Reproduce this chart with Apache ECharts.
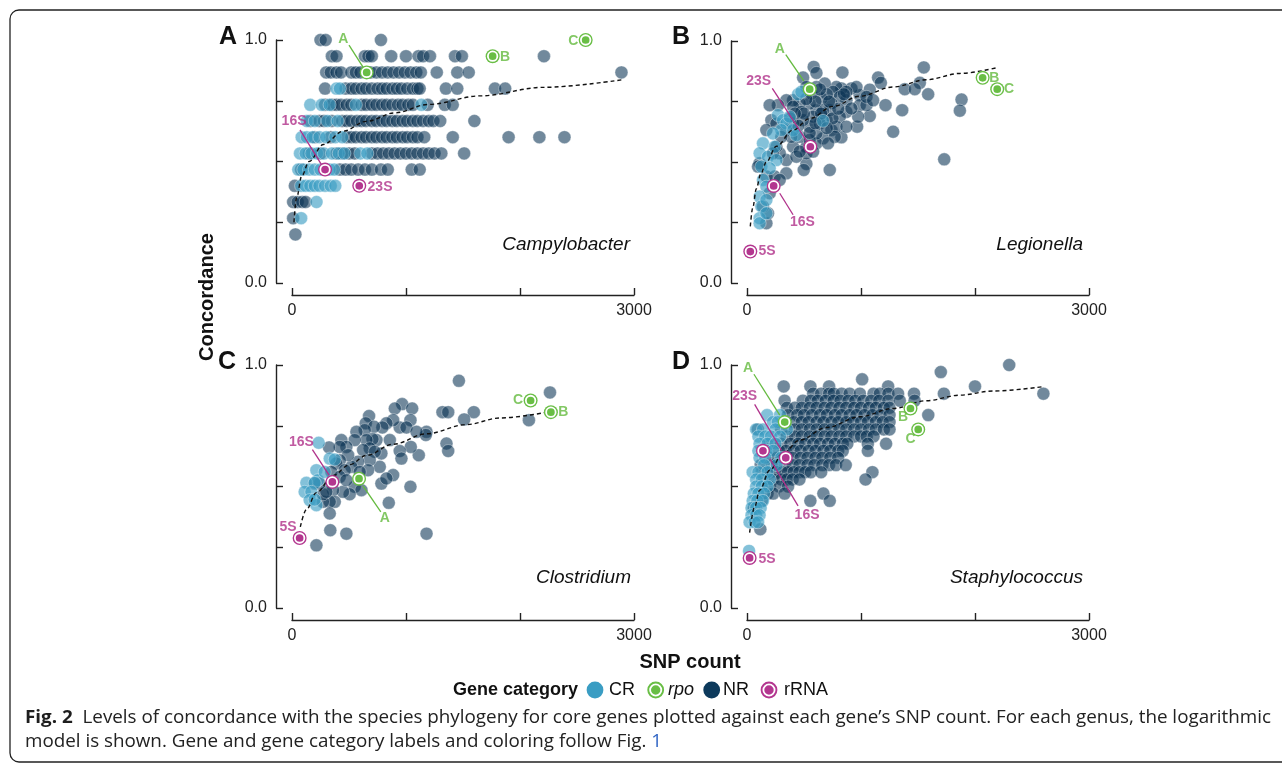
<!DOCTYPE html>
<html><head><meta charset="utf-8">
<script src="https://cdn.jsdelivr.net/npm/echarts@6/dist/echarts.min.js"></script>
<style>html,body{margin:0;padding:0;background:#fff}#c{width:1282px;height:766px}</style>
</head><body><div id="c"></div>
<script>
// ---------- ticks & categories ----------
const SNP_TICKS = [0, 1000, 2000, 3000];
const SNP_TICK_LABELS = ['0', '', '', '3000'];
const CONC_TICKS = [0, 0.25, 0.5, 0.75, 1];
const CONC_TICK_LABELS = ['0.0', '', '', '', '1.0'];
const categories = ['CR', 'rpo', 'NR', 'rRNA'];
const genera = ['Campylobacter', 'Legionella', 'Clostridium', 'Staphylococcus'];
const panelLetters = ['A', 'B', 'C', 'D'];

// ---------- A: Campylobacter (rows: [concordance, SNP counts]) ----------
const campyNR = [
  [1.0, [250, 295, 780]],
  [0.9333, [350, 390, 640, 670, 700, 870, 1000, 1110, 1150, 1210, 1430, 1490, 2210]],
  [0.8667, [300, 340, 390, 430, 520, 560, 600, 690, 740, 790, 840, 890, 940, 990, 1040, 1090, 1130, 1270, 1450, 1550, 2890]],
  [0.8, [290, 470, 520, 560, 610, 650, 700, 750, 790, 830, 880, 920, 960, 1010, 1060, 1100, 1120, 1350, 1450, 1780, 1870]],
  [0.7333, [290, 350, 390, 430, 480, 520, 610, 650, 700, 740, 790, 830, 880, 930, 970, 1020, 1060, 1190, 1340, 1410]],
  [0.6667, [160, 240, 280, 350, 440, 480, 520, 570, 610, 650, 700, 740, 790, 830, 880, 920, 970, 1010, 1060, 1100, 1150, 1200, 1240, 1300, 1600]],
  [0.6, [200, 340, 480, 520, 560, 610, 650, 700, 740, 790, 830, 880, 920, 970, 1010, 1060, 1100, 1160, 1410, 1900, 2170, 2390]],
  [0.5333, [150, 250, 390, 440, 500, 550, 700, 750, 800, 850, 900, 950, 1000, 1050, 1100, 1150, 1200, 1250, 1310, 1510]],
  [0.4667, [80, 420, 470, 520, 580, 640, 700, 780, 840, 1050, 1120]],
  [0.4, [25]],
  [0.3333, [10, 50, 90, 120]],
  [0.2667, [10]],
  [0.2, [30]]
];
const campyCR = [
  [0.8, [390, 420]],
  [0.7333, [160, 260, 330, 560, 1135]],
  [0.6667, [130, 200, 310, 400]],
  [0.6, [85, 130, 180, 240, 300, 380, 440]],
  [0.5333, [70, 120, 170, 220, 280, 350, 410, 460, 600, 660]],
  [0.4667, [55, 100, 150, 200, 250, 330, 370]],
  [0.4, [80, 120, 160, 200, 240, 290, 340, 380]],
  [0.3333, [215]],
  [0.2667, [80]]
];
const campyRpo = [['A', 655, 0.8667], ['B', 1760, 0.9333], ['C', 2576, 1.0]];
const campyRRNA = [['16S', 290, 0.4667], ['23S', 590, 0.4]];
const campyFit = [[17, 0.25], [40, 0.35], [85, 0.44], [150, 0.50], [275, 0.57], [450, 0.625], [650, 0.665], [900, 0.70], [1200, 0.735], [1650, 0.77], [2200, 0.805], [2890, 0.836]];

// ---------- B: Legionella ----------
const legNR = [[585,0.893],[609,0.868],[837,0.870],[1551,0.891],[492,0.849],[1150,0.849],[1174,0.827],[1516,0.827],[1384,0.801],[1472,0.801],[1589,0.780],[1882,0.758],[1867,0.712],[1361,0.714],[1215,0.735],[1077,0.690],[1282,0.625],[966,0.646],[828,0.602],[726,0.467],[521,0.492],[498,0.467],[1730,0.511],[1077,0.799],[989,0.776],[916,0.804],[828,0.804],[784,0.810],[682,0.824],[755,0.790],[872,0.755],[989,0.735],[1048,0.735],[975,0.687],[872,0.707],[814,0.687],[741,0.632],[667,0.598],[609,0.577],[521,0.563],[521,0.536],[609,0.618],[697,0.673],[726,0.714],[609,0.714],[550,0.742],[462,0.742],[404,0.755],[345,0.755],[272,0.735],[199,0.735],[214,0.673],[170,0.632],[111,0.495],[97,0.481],[170,0.440],[243,0.440],[345,0.453],[345,0.508],[287,0.426],[199,0.371],[170,0.247],[184,0.288],[140,0.316],[404,0.563],[462,0.604],[550,0.646],[638,0.659],[580,0.687],[492,0.673],[404,0.659],[345,0.632],[389,0.604],[433,0.522],[287,0.536],[258,0.563],[814,0.769],[916,0.721],[741,0.742],[653,0.762],[565,0.783],[609,0.810],[521,0.810],[404,0.728],[667,0.714],[784,0.646],[872,0.646],[770,0.604],[711,0.577],[550,0.591],[462,0.543],[580,0.543],[960,0.810],[872,0.790],[1048,0.769],[1106,0.755],[477,0.707],[258,0.659],[301,0.604],[228,0.536],[600,0.75],[700,0.78],[650,0.70],[750,0.68],[500,0.70],[450,0.65],[550,0.62],[700,0.64],[800,0.72],[850,0.78],[420,0.70],[380,0.68],[640,0.80],[720,0.75],[520,0.76],[600,0.66]];
const legCR = [[448,0.780],[477,0.790],[272,0.694],[316,0.673],[345,0.659],[301,0.632],[228,0.618],[140,0.577],[111,0.536],[184,0.522],[258,0.508],[126,0.481],[199,0.474],[140,0.426],[170,0.398],[111,0.357],[126,0.316],[111,0.268],[111,0.247],[667,0.670],[404,0.632],[433,0.611],[375,0.687],[243,0.563],[170,0.343],[170,0.288]];
const legRpo = [['A', 550, 0.801], ['B', 2067, 0.848], ['C', 2195, 0.801]];
const legRRNA = [['23S', 556, 0.563], ['16S', 234, 0.401], ['5S', 29, 0.130]];
const legFit = [[29,0.234],[50,0.31],[82,0.39],[120,0.45],[170,0.50],[258,0.565],[404,0.632],[550,0.68],[755,0.73],[989,0.772],[1282,0.81],[1575,0.84],[1867,0.866],[2195,0.890]];

// ---------- C: Clostridium ----------
const clostNR = [[1464,0.935],[2263,0.887],[2078,0.773],[1595,0.806],[1510,0.776],[1320,0.806],[1370,0.806],[1355,0.677],[1370,0.646],[1180,0.725],[1174,0.712],[1112,0.629],[1042,0.663],[1039,0.499],[1180,0.306],[966,0.839],[902,0.821],[1054,0.821],[1039,0.773],[945,0.743],[1004,0.743],[1092,0.725],[945,0.646],[960,0.615],[887,0.773],[828,0.760],[793,0.743],[741,0.691],[858,0.691],[784,0.636],[770,0.581],[784,0.512],[887,0.547],[828,0.533],[849,0.433],[676,0.790],[647,0.760],[720,0.746],[638,0.732],[565,0.725],[706,0.695],[653,0.691],[550,0.691],[682,0.657],[624,0.650],[726,0.643],[682,0.609],[580,0.602],[521,0.581],[667,0.567],[594,0.560],[550,0.499],[609,0.485],[506,0.468],[448,0.478],[433,0.691],[477,0.663],[419,0.663],[492,0.629],[419,0.608],[389,0.595],[463,0.567],[345,0.560],[325,0.661],[360,0.485],[375,0.437],[331,0.437],[272,0.437],[272,0.468],[331,0.389],[336,0.320],[477,0.306],[214,0.258],[301,0.478],[243,0.512],[199,0.512],[419,0.540],[477,0.526]];
const clostCR = [[234,0.680],[331,0.615],[375,0.611],[214,0.567],[228,0.526],[126,0.515],[199,0.515],[111,0.478],[170,0.478],[155,0.444],[214,0.423],[199,0.446],[287,0.560]];
const clostRpo = [['A', 588, 0.532], ['B', 2271, 0.806], ['C', 2093, 0.854]];
const clostRRNA = [['5S', 67, 0.288], ['16S', 354, 0.519]];
const clostFit = [[73,0.334],[126,0.405],[214,0.475],[360,0.545],[506,0.59],[653,0.628],[887,0.674],[1180,0.717],[1531,0.755],[1824,0.782],[2263,0.808]];

// ---------- D: Staphylococcus (rows: [concordance, SNP counts]) ----------
const staphNR = [
  [1.0, [2300]],
  [0.971, [1700]],
  [0.941, [1010]],
  [0.912, [322, 556, 720, 1238, 2000]],
  [0.882, [580, 650, 720, 760, 830, 900, 990, 1110, 1165, 1240, 1325, 1465, 1727, 2600]],
  [0.853, [330, 490, 560, 620, 690, 760, 820, 890, 950, 1020, 1090, 1160, 1240, 1340, 1470]],
  [0.824, [350, 420, 480, 550, 610, 680, 740, 810, 870, 940, 1000, 1070, 1130, 1200, 1250]],
  [0.794, [360, 440, 500, 570, 640, 700, 770, 830, 900, 960, 1030, 1100, 1170, 1250, 1590]],
  [0.765, [410, 480, 540, 610, 670, 740, 800, 870, 930, 1000, 1060, 1130, 1190, 1250]],
  [0.735, [95, 300, 420, 480, 550, 610, 680, 740, 810, 870, 940, 1000, 1070, 1130, 1200, 1250]],
  [0.706, [350, 420, 480, 550, 610, 680, 740, 810, 870, 940, 1000, 1050, 1110]],
  [0.676, [200, 300, 380, 450, 510, 580, 640, 710, 770, 840, 880, 1060, 1220]],
  [0.647, [150, 280, 340, 410, 470, 540, 600, 670, 730, 800, 840, 1060]],
  [0.618, [200, 260, 400, 470, 530, 600, 660, 730, 800]],
  [0.588, [120, 220, 330, 400, 460, 530, 590, 660, 720, 780, 866]],
  [0.559, [130, 200, 260, 310, 360, 410, 460, 510, 560, 650, 1100]],
  [0.529, [150, 230, 300, 350, 400, 460, 1040]],
  [0.5, [200, 280, 360]],
  [0.471, [180, 230, 330, 670]],
  [0.441, [130, 556, 726]],
  [0.412, [60]],
  [0.324, [117]]
];
const staphCR = [
  [0.794, [176, 290]],
  [0.765, [228, 270]],
  [0.735, [80, 140, 250, 350]],
  [0.706, [100, 160, 210, 290]],
  [0.676, [110, 180, 250]],
  [0.647, [100, 170, 230]],
  [0.618, [110, 160, 300]],
  [0.588, [150, 260]],
  [0.559, [50, 100, 180]],
  [0.529, [80, 130, 200]],
  [0.5, [80, 130, 180]],
  [0.471, [60, 100, 150]],
  [0.441, [50, 90, 140]],
  [0.412, [40, 80, 120]],
  [0.382, [40, 80, 110]],
  [0.353, [23, 67, 97]],
  [0.235, [18]]
];
const staphRpo = [['A', 331, 0.765], ['B', 1434, 0.821], ['C', 1502, 0.735]];
const staphRRNA = [['5S', 23, 0.206], ['16S', 140, 0.647], ['23S', 340, 0.618]];
const staphFit = [[23,0.31],[67,0.416],[111,0.485],[199,0.567],[316,0.636],[462,0.691],[697,0.743],[989,0.787],[1282,0.821],[1575,0.853],[1867,0.876],[2160,0.893],[2599,0.911]];

// ---------- annotation placement (label centre & leader line, data coords) ----------
const annotations = [
  [ {t:'A', cat:'rpo', at:[450,1.003], line:[[500,0.979],[626,0.886]]},
    {t:'B', cat:'rpo', at:[1868,0.931]},
    {t:'C', cat:'rpo', at:[2468,0.997]},
    {t:'16S', cat:'rRNA', at:[18,0.667], line:[[70,0.630],[260,0.486]]},
    {t:'23S', cat:'rRNA', at:[772,0.396]} ],
  [ {t:'A', cat:'rpo', at:[287,0.968], line:[[340,0.944],[498,0.835]]},
    {t:'B', cat:'rpo', at:[2169,0.848]},
    {t:'C', cat:'rpo', at:[2298,0.801]},
    {t:'23S', cat:'rRNA', at:[102,0.834], line:[[222,0.804],[521,0.588]]},
    {t:'16S', cat:'rRNA', at:[486,0.250], line:[[287,0.371],[404,0.282]]},
    {t:'5S', cat:'rRNA', at:[176,0.130]} ],
  [ {t:'5S', cat:'rRNA', at:[-35,0.331]},
    {t:'16S', cat:'rRNA', at:[82,0.681], line:[[179,0.652],[325,0.547]]},
    {t:'A', cat:'rpo', at:[814,0.368], line:[[623,0.503],[779,0.396]]},
    {t:'C', cat:'rpo', at:[1984,0.854]},
    {t:'B', cat:'rpo', at:[2380,0.806]} ],
  [ {t:'A', cat:'rpo', at:[9,0.986], line:[[61,0.962],[287,0.794]]},
    {t:'23S', cat:'rRNA', at:[-20,0.872], line:[[67,0.838],[301,0.650]]},
    {t:'16S', cat:'rRNA', at:[527,0.382], line:[[448,0.420],[199,0.615]]},
    {t:'B', cat:'rpo', at:[1370,0.784]},
    {t:'C', cat:'rpo', at:[1434,0.695]},
    {t:'5S', cat:'rRNA', at:[176,0.203]} ]
];

// ---------- styling / layout ----------
const FONT = 'Liberation Sans, Arial, Helvetica, sans-serif';
const COLORS = {CR:'#3A9DC3', rpo:'#69BE45', NR:'#0D3A5C', rRNA:'#B3368F'};
const POINT_COLORS = {CR:'#3A9DC3', NR:'#0B3354'};
const TEXT_COLORS = {rpo:'#64BA3F', rRNA:'#B0318A'};
const grids = [
  {left:292, top:40, width:342, height:243},
  {left:747, top:41, width:342, height:242},
  {left:292, top:365, width:342, height:243},
  {left:747, top:365, width:342, height:243}
];
const letterPos = [[228,37],[681,37],[227,362],[681,362]];
const genusPos = [[630,245],[1083,245],[631,578],[1083,578]];

const rows = r => r.flatMap(([y, xs]) => xs.map(x => [x, y]));
const panels = [
  {nr: rows(campyNR), cr: rows(campyCR), rpo: campyRpo, rrna: campyRRNA, fit: campyFit},
  {nr: legNR, cr: legCR, rpo: legRpo, rrna: legRRNA, fit: legFit},
  {nr: clostNR, cr: clostCR, rpo: clostRpo, rrna: clostRRNA, fit: clostFit},
  {nr: rows(staphNR), cr: rows(staphCR), rpo: staphRpo, rrna: staphRRNA, fit: staphFit}
];

const axisColor = '#222';
const series = [];
panels.forEach((p, i) => {
  const base = {xAxisIndex:i, yAxisIndex:i, clip:false, silent:true, animation:false};
  series.push({...base, type:'scatter', name:'NR', data:p.nr, symbolSize:13, z:2,
    itemStyle:{color:POINT_COLORS.NR, opacity:0.58, borderColor:'#ffffff', borderWidth:0.6}});
  series.push({...base, type:'scatter', name:'CR', data:p.cr, symbolSize:13, z:3,
    itemStyle:{color:POINT_COLORS.CR, opacity:0.63, borderColor:'#ffffff', borderWidth:0.6}});
  series.push({...base, type:'line', data:p.fit, showSymbol:false, symbol:'none', smooth:0.35, smoothMonotone:'x', z:4,
    lineStyle:{color:'#111', width:1.4, type:[4,3]}});
  [['rpo', p.rpo], ['rRNA', p.rrna]].forEach(([cat, arr]) => {
    const d = arr.map(a => ({name:a[0], value:[a[1], a[2]]}));
    series.push({...base, type:'scatter', name:cat, data:d, symbolSize:14, z:5, itemStyle:{color:COLORS[cat], opacity:1}});
    series.push({...base, type:'scatter', name:cat+'-inner', data:d, symbolSize:9.5, z:6,
      itemStyle:{color:COLORS[cat], opacity:1, borderColor:'#ffffff', borderWidth:1.8}});
  });
  const an = annotations[i];
  series.push({...base, type:'scatter', name:'labels', symbol:'circle', symbolSize:1, z:8,
    itemStyle:{color:'rgba(0,0,0,0)'},
    data: an.map(a => ({name:a.t, value:a.at, label:{color:TEXT_COLORS[a.cat]}})),
    label:{show:true, position:'inside', formatter:'{b}', fontSize:14, fontWeight:'bold', fontFamily:FONT},
    markLine:{silent:true, animation:false, symbol:['none','none'], label:{show:false},
      lineStyle:{type:'solid', width:1.3},
      data: an.filter(a => a.line).map(a => [
        {coord:a.line[0], lineStyle:{color:TEXT_COLORS[a.cat], width:1.3, type:'solid'}},
        {coord:a.line[1]}])}
  });
});

// ---------- graphic texts ----------
const graphic = [];
graphic.push({type:'rect', shape:{x:10, y:10, width:1320, height:752, r:9}, silent:true,
  style:{fill:'none', stroke:'#222', lineWidth:1.3}});
panelLetters.forEach((L, i) => graphic.push({type:'text', x:letterPos[i][0], y:letterPos[i][1], silent:true,
  style:{text:L, font:'bold 25px ' + FONT, fill:'#111', align:'center', verticalAlign:'middle'}}));
genera.forEach((g, i) => graphic.push({type:'text', x:genusPos[i][0], y:genusPos[i][1], silent:true,
  style:{text:g, font:'italic 19px ' + FONT, fill:'#111', align:'right', verticalAlign:'middle'}}));
graphic.push({type:'text', x:207, y:297, rotation:Math.PI/2, silent:true,
  style:{text:'Concordance', font:'bold 20px ' + FONT, fill:'#111', align:'center', verticalAlign:'middle'}});
graphic.push({type:'text', x:690, y:662, silent:true,
  style:{text:'SNP count', font:'bold 20px ' + FONT, fill:'#111', align:'center', verticalAlign:'middle'}});

// legend
const LY = 690;
graphic.push({type:'text', x:453, y:LY, silent:true, style:{text:'Gene category', font:'bold 18px ' + FONT, fill:'#111', align:'left', verticalAlign:'middle'}});
const legendItems = [
  {cat:'CR', cx:595, tx:609, ring:false, italic:false},
  {cat:'rpo', cx:655.7, tx:668, ring:true, italic:true},
  {cat:'NR', cx:711.7, tx:723, ring:false, italic:false},
  {cat:'rRNA', cx:769, tx:784, ring:true, italic:false}
];
legendItems.forEach(it => {
  graphic.push({type:'circle', shape:{cx:it.cx, cy:LY, r:8.4}, silent:true, style:{fill:COLORS[it.cat]}});
  if (it.ring) graphic.push({type:'circle', shape:{cx:it.cx, cy:LY, r:5.6}, silent:true,
    style:{fill:COLORS[it.cat], stroke:'#fff', lineWidth:1.8}});
  graphic.push({type:'text', x:it.tx, y:LY, silent:true,
    style:{text:it.cat, font:(it.italic ? 'italic ' : '') + '18px ' + FONT, fill:'#111', align:'left', verticalAlign:'middle'}});
});

// caption
const CAP_FONT = '"Open Sans", "Noto Sans", sans-serif';
const CAP_SIZE = 18;
const cap1b = 'Fig. 2';
const cap1 = '  Levels of concordance with the species phylogeny for core genes plotted against each gene\u2019s SNP count. For each genus, the logarithmic';
const cap2 = 'model is shown. Gene and gene category labels and coloring follow Fig. ';
const cap2link = '1';
const ctx = document.createElement('canvas').getContext('2d');
function mw(t, w) { ctx.font = w + ' ' + CAP_SIZE + 'px ' + CAP_FONT; return ctx.measureText(t).width; }
const w1 = mw(cap1b, 'bold') + mw(cap1, 'normal');
const w2 = mw(cap2, 'normal') + mw(cap2link, 'normal');
const s1 = 1246 / w1, s2 = 637 / w2;
graphic.push({type:'text', x:25, y:718, scaleX:s1, silent:true,
  style:{text:'{b|' + cap1b + '}{n|' + cap1 + '}', align:'left', verticalAlign:'middle',
    rich:{b:{fontFamily:CAP_FONT, fontSize:CAP_SIZE, fontWeight:'bold', fill:'#1e1e1e'}, n:{fontFamily:CAP_FONT, fontSize:CAP_SIZE, fill:'#222'}}}});
graphic.push({type:'text', x:25, y:742, scaleX:s2, silent:true,
  style:{text:'{n|' + cap2 + '}{l|' + cap2link + '}', align:'left', verticalAlign:'middle',
    rich:{n:{fontFamily:CAP_FONT, fontSize:CAP_SIZE, fill:'#222'}, l:{fontFamily:CAP_FONT, fontSize:CAP_SIZE, fill:'#2F64C4'}}}});

const option = {
  animation:false,
  backgroundColor:'#ffffff',
  grid: grids.map(g => ({...g, containLabel:false})),
  xAxis: grids.map((g, i) => ({
    type:'value', gridIndex:i, min:SNP_TICKS[0], max:SNP_TICKS[SNP_TICKS.length-1], interval:1000, offset:12,
    axisLine:{show:true, onZero:false, lineStyle:{color:axisColor, width:1.4}},
    axisTick:{show:true, inside:true, length:7, lineStyle:{color:axisColor, width:1.4}},
    splitLine:{show:false},
    axisLabel:{show:true, margin:8, fontSize:16, color:'#222', fontFamily:FONT,
      formatter: v => { const k = SNP_TICKS.indexOf(v); return k >= 0 ? SNP_TICK_LABELS[k] : ''; }}
  })),
  yAxis: grids.map((g, i) => ({
    type:'value', gridIndex:i, min:0, max:1, interval:0.25, offset:16,
    axisLine:{show:true, onZero:false, lineStyle:{color:axisColor, width:1.4}},
    axisTick:{show:true, inside:true, length:7, lineStyle:{color:axisColor, width:1.4}},
    splitLine:{show:false},
    axisLabel:{show:true, margin:9, fontSize:16, color:'#222', fontFamily:FONT,
      formatter: v => { const k = CONC_TICKS.indexOf(v); return k >= 0 ? CONC_TICK_LABELS[k] : ''; }}
  })),
  series: series,
  graphic: graphic
};
const chart = echarts.init(document.getElementById('c'));
chart.setOption(option);
</script></body></html>
